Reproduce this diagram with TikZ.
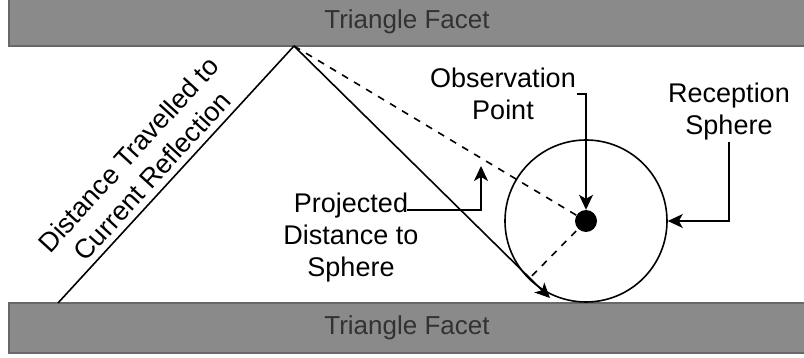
\documentclass[tikz,border=0pt]{standalone}
\usepackage{fontspec}
\setmainfont{Liberation Sans}
\usetikzlibrary{arrows.meta}
\usetikzlibrary{calc}
\tikzset{%
    facet/.style={draw={rgb, 255:red, 104; green, 104; blue, 104}, line width=1.5, fill={rgb, 255:red, 138; green, 138; blue, 138}, text={rgb, 255:red, 50; green, 50; blue, 50}, font=\fontsize{26}{30}\selectfont, minimum width=796, minimum height=48, inner sep=0},%
    lbl/.style={align=center, inner sep=1, font=\fontsize{27}{32}\selectfont},%
    ray/.style={line width=1.6},%
    dashline/.style={line width=1.6, dash pattern={on 7pt off 7pt}},%
    ptr/.style={line width=1.6, -{Stealth[length=15pt,width=14pt,inset=4pt]}},%
}

\begin{document}
\begin{tikzpicture}[x=1pt,y=1pt,yscale=-1,xscale=1]
\useasboundingbox (0,0) rectangle (804,358);

% Facets
\node [facet] (topfacet) at (407,22) {Triangle Facet};
\node [facet, minimum height=50] (botfacet) at (407,328) {Triangle Facet};

% Ray end points
\coordinate (leftfoot) at (58,303);
\coordinate (apex) at (294,46);
\coordinate (raytip) at (550,298);

% Reception sphere and observation point
\node [draw, circle, line width=1.6, minimum size=162, inner sep=0] (sphere) at (586,221) {};
\coordinate (tangent) at ($(apex)!(sphere.center)!(raytip)$);

%Dashed Lines
\draw [dashline] (apex) -- (sphere.center);
\draw [dashline] (sphere.center) -- (tangent);
\node [circle, fill=black, minimum size=22, inner sep=0] (obspt) at (sphere.center) {};

%Straight Lines
\draw [ray] (leftfoot) -- (apex);
\draw [ptr] (apex) -- (raytip);
\node [lbl, rotate=47.6, anchor=south] (travel) at ($(leftfoot)!0.45!(apex)+(-4,-4)$) {Distance Travelled to\\Current Reflection};

% Text Node
\node [lbl] (obslbl) at (503,94) {Observation\\Point};
\draw [ptr] (obslbl.east) -| (obspt.north);
% Text Node
\node [lbl] (reclbl) at (729,112) {Reception\\Sphere};
\draw [ptr] (reclbl.south) |- (sphere.east);
% Text Node
\node [lbl] (projlbl) at (351,238) {Projected\\Distance to\\Sphere};
\coordinate (projtail) at (407,210);
\coordinate (projtip) at (481,166);
\draw [ptr] (projtail) -| (projtip);

\end{tikzpicture}
\end{document}
